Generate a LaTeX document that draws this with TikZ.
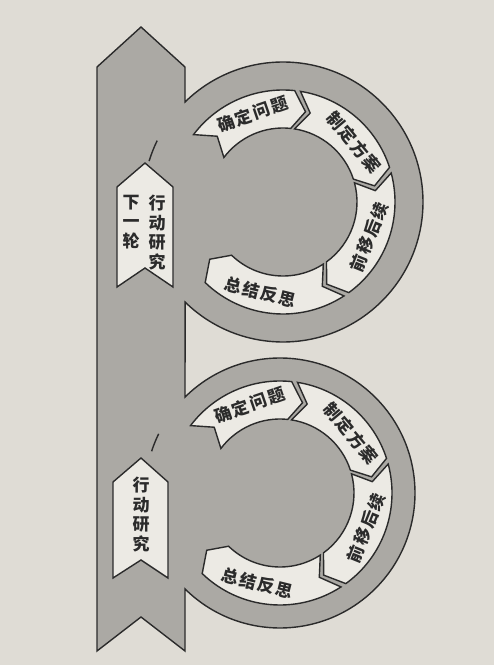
\documentclass[tikz,border=0pt]{standalone}
\usepackage{fontspec}
\newfontfamily\cjk{Noto Sans CJK SC}
\newfontfamily\cjkwide{Noto Sans CJK SC}[LetterSpace=10]
\usetikzlibrary{calc}
\definecolor{paper}{HTML}{DFDCD5}
\definecolor{bandgray}{HTML}{ABA9A4}
\definecolor{pale}{HTML}{ECEAE4}
\definecolor{ink}{HTML}{2B2B2B}
\tikzset{
  outline/.style={draw=ink, line width=1.4pt, line join=miter},
  arrowbox/.style={outline, fill=pale},
  steptext/.style={font=\cjkwide\bfseries\fontsize{17}{17}\selectfont, text=ink, inner sep=0pt},
  labeltext/.style={font=\cjk\bfseries\fontsize{17}{19.5}\selectfont, align=center, text=ink, inner sep=0pt, anchor=north},
}
% #1 centre, #2 tail angle, #3 tip angle, #4 node name, #5 text angle, #6 text rotation, #7 text
\newcommand\cycarrow[7]{%
  \pgfmathsetmacro\hb{#3+8}%
  \pgfmathsetmacro\tn{#2-8}%
  \draw[arrowbox] ($(#1)+(#2:112)$) arc[start angle=#2, end angle=\hb, radius=112]
    -- ($(#1)+(#3:93)$) -- ($(#1)+(\hb:74)$)
    arc[start angle=\hb, end angle=#2, radius=74]
    -- ($(#1)+(\tn:93)$) -- cycle;
  \node[steptext, rotate=#6] (#4) at ($(#1)+(#5:93)$) {#7};
}
\begin{document}
\begin{tikzpicture}[x=1pt,y=1pt]
  \useasboundingbox (0,0) rectangle (494,665);
  \fill[paper] (0,0) rectangle (494,665);
  \coordinate (c1) at (283,463);
  \coordinate (c2) at (280,172);
  % band with the two rings
  \path[outline, fill=bandgray] (97,14) -- (97,598) -- (141,638) -- (185,598)
    -- ($(c1)+(134.4:140)$) arc[start angle=134.4, end angle=-134.4, radius=140]
    -- ($(c2)+(134.7:135)$) arc[start angle=134.7, end angle=-134.7, radius=135]
    -- (185,14) -- (141,48) -- cycle;
  \draw[outline] ($(c1)+(163:140)$) arc[start angle=163, end angle=154, radius=140];
  \draw[outline] ($(c2)+(162:135)$) arc[start angle=162, end angle=154, radius=135];
  % upper cycle
  \cycarrow{c1}{143}{76}{u1}{109}{19}{确定问题}
  \cycarrow{c1}{81}{10}{u2}{40}{-50}{制定方案}
  \cycarrow{c1}{15}{-62}{u3}{-22}{68}{前移后续}
  \cycarrow{c1}{-57}{-142}{u4}{-104}{-14}{总结反思}
  % lower cycle
  \cycarrow{c2}{143}{76}{l1}{109}{19}{确定问题}
  \cycarrow{c2}{81}{10}{l2}{40}{-50}{制定方案}
  \cycarrow{c2}{15}{-62}{l3}{-22}{68}{前移后续}
  \cycarrow{c2}{-57}{-142}{l4}{-104}{-14}{总结反思}
  % labels on the band
  \draw[arrowbox] (117,378) -- (117,478) -- (145,502) -- (173,478) -- (173,378) -- (145,397) -- cycle;
  \node[labeltext] (nextA) at (131,470) {下\\一\\轮};
  \node[labeltext] (nextB) at (157,470) {行\\动\\研\\究};
  \draw[arrowbox] (113,87) -- (113,183) -- (141,207) -- (168,183) -- (168,87) -- (141,105) -- cycle;
  \node[labeltext] (act) at (141,188) {行\\动\\研\\究};
\end{tikzpicture}
\end{document}
